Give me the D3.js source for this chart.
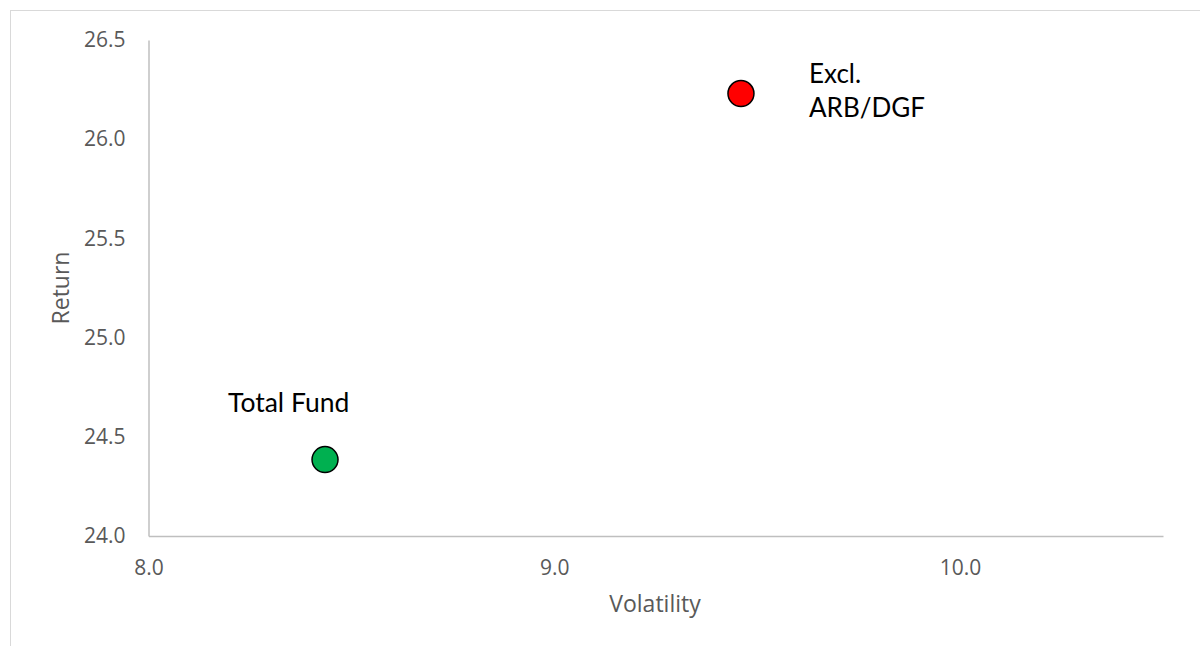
<!DOCTYPE html>
<html>
<head>
<meta charset="utf-8">
<script src="https://cdn.jsdelivr.net/npm/d3@7"></script>
<style>
  body { margin: 0; background: #fff; }
  svg { display: block; }
</style>
</head>
<body>
<div id="app"></div>
<script>
// data
const funds = ['Total Fund', 'Excl. ARB/DGF']
const volatility = [8.435, 9.46]
const returns = [24.385, 26.23]
const colours = ['#00B050', '#FF0000']
const xTicks = [8.0, 9.0, 10.0]
const yTicks = [24.0, 24.5, 25.0, 25.5, 26.0, 26.5]

const W = 1200, H = 646
const M = { left: 148.5, right: 1163, top: 40, bottom: 536 }

const svg = d3.select('#app').append('svg')
    .attr('width', W)
    .attr('height', H)

// chart frame (runs off the right and bottom of the window)
svg.append('rect')
    .attr('x', 10.5).attr('y', 10.5)
    .attr('width', W + 20).attr('height', H + 20)
    .attr('fill', 'none')
    .attr('stroke', '#D9D9D9')

const x = d3.scaleLinear().domain([8, 10.5]).range([M.left, M.right])
const y = d3.scaleLinear().domain([24, 26.5]).range([M.bottom, M.top])

const tickFont = "'Open Sans', sans-serif"
const textGrey = '#595959'

// x axis
const xAxis = svg.append('g')
    .attr('transform', `translate(0,${M.bottom})`)
    .call(d3.axisBottom(x).tickValues(xTicks).tickSize(0).tickPadding(24).tickFormat(d3.format('.1f')))
xAxis.select('.domain').attr('stroke', '#BFBFBF').attr('stroke-width', 1.5)
xAxis.selectAll('text')
    .attr('font-family', tickFont).attr('font-size', 21).attr('fill', textGrey)

// y axis
const yAxis = svg.append('g')
    .attr('transform', `translate(${M.left},0)`)
    .call(d3.axisLeft(y).tickValues(yTicks).tickSize(0).tickPadding(23).tickFormat(d3.format('.1f')))
yAxis.select('.domain').attr('stroke', '#BFBFBF').attr('stroke-width', 1.5)
yAxis.selectAll('text')
    .attr('font-family', tickFont).attr('font-size', 21).attr('fill', textGrey)

// axis titles
svg.append('text')
    .attr('x', 655).attr('y', 612)
    .attr('text-anchor', 'middle')
    .attr('font-family', tickFont).attr('font-size', 23).attr('fill', textGrey)
    .text('Volatility')

svg.append('text')
    .attr('transform', 'translate(69,288) rotate(-90)')
    .attr('text-anchor', 'middle')
    .attr('font-family', tickFont).attr('font-size', 23).attr('fill', textGrey)
    .text('Return')

// points
const pts = funds.map((f, i) => ({ name: f, v: volatility[i], r: returns[i], c: colours[i] }))

svg.selectAll('circle.pt').data(pts).join('circle')
    .attr('class', 'pt')
    .attr('cx', d => x(d.v))
    .attr('cy', d => y(d.r))
    .attr('r', 13)
    .attr('fill', d => d.c)
    .attr('stroke', '#000')
    .attr('stroke-width', 1.5)

// data labels
const labelFont = "Lato, 'Open Sans', sans-serif"
svg.append('text')
    .attr('x', 228).attr('y', 412)
    .attr('font-family', labelFont).attr('font-size', 26.5).attr('fill', '#000')
    .text('Total Fund')

const lab2 = svg.append('text')
    .attr('x', 809).attr('y', 83)
    .attr('font-family', labelFont).attr('font-size', 26).attr('fill', '#000')
lab2.append('tspan').attr('x', 809).text('Excl.')
lab2.append('tspan').attr('x', 809).attr('dy', 34).text('ARB/DGF')
</script>
</body>
</html>
